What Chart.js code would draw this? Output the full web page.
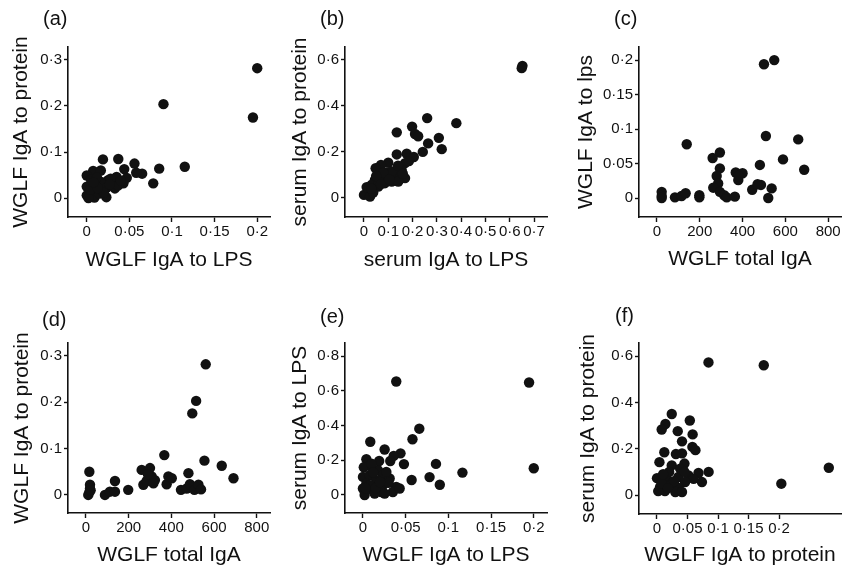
<!DOCTYPE html>
<html>
<head>
<meta charset="utf-8">
<title>IgA scatter panels</title>
<script src="https://cdn.jsdelivr.net/npm/chart.js@4.4.0/dist/chart.umd.min.js"></script>
<style>
  body { margin: 0; background: #fff; width: 850px; height: 576px; position: relative; overflow: hidden;
         font-family: "Liberation Sans", Arial, Helvetica, sans-serif; }
  .panel { position: absolute; }
  .tag { position: absolute; font-size: 20px; line-height: 20px; color: #111; }
</style>
</head>
<body>
<div class="panel" style="left:0px;top:0px;width:285px;height:288px"><canvas id="chartA"></canvas></div>
<div class="panel" style="left:285px;top:0px;width:285px;height:288px"><canvas id="chartB"></canvas></div>
<div class="panel" style="left:570px;top:0px;width:280px;height:288px"><canvas id="chartC"></canvas></div>
<div class="panel" style="left:0px;top:288px;width:285px;height:288px"><canvas id="chartD"></canvas></div>
<div class="panel" style="left:285px;top:288px;width:285px;height:288px"><canvas id="chartE"></canvas></div>
<div class="panel" style="left:570px;top:288px;width:280px;height:288px"><canvas id="chartF"></canvas></div>

<div class="tag" style="left:43px;top:8px">(a)</div>
<div class="tag" style="left:320px;top:8px">(b)</div>
<div class="tag" style="left:614px;top:8px">(c)</div>
<div class="tag" style="left:42px;top:309px">(d)</div>
<div class="tag" style="left:320px;top:306px">(e)</div>
<div class="tag" style="left:615px;top:305px">(f)</div>

<script>
// Tick values and labels
const lpsTicks = [0, 0.05, 0.1, 0.15, 0.2];
const lpsLabels = ["0", "0·05", "0·1", "0·15", "0·2"];
const serumLpsTicks = [0, 0.1, 0.2, 0.3, 0.4, 0.5, 0.6, 0.7];
const serumLpsLabels = ["0", "0·1", "0·2", "0·3", "0·4", "0·5", "0·6", "0·7"];
const totalTicks = [0, 200, 400, 600, 800];
const totalLabels = ["0", "200", "400", "600", "800"];
const proteinTicks = [0, 0.1, 0.2, 0.3];
const proteinLabels = ["0", "0·1", "0·2", "0·3"];
const serumProtTicks = [0, 0.2, 0.4, 0.6];
const serumProtLabels = ["0", "0·2", "0·4", "0·6"];
const serumLpsYTicks = [0, 0.2, 0.4, 0.6, 0.8];
const serumLpsYLabels = ["0", "0·2", "0·4", "0·6", "0·8"];

// (a) WGLF IgA to LPS vs WGLF IgA to protein
const aX = [0.200, 0.195, 0.090, 0.115, 0.085, 0.078, 0.065, 0.056, 0.058, 0.037, 0.019, 0.044,
            0.043, 0.047, 0.035, 0.0075, 0.0165, 0.000, 0.025, 0.017, 0.030, 0.010, 0.000, 0.023,
            0.0075, 0.000, 0.009, 0.023, 0.002, 0.015, 0.033, 0.037, 0.005, 0.012, 0.028,
            0.004, 0.020, 0.027, 0.040, 0.013, 0.008];
const aY = [0.282, 0.175, 0.204, 0.068, 0.064, 0.032, 0.053, 0.075, 0.055, 0.085, 0.084, 0.063,
            0.032, 0.044, 0.046, 0.059, 0.060, 0.049, 0.039, 0.035, 0.032, 0.028, 0.025, 0.022,
            0.014, 0.006, 0.001, 0.002, 0.000, 0.010, 0.021, 0.028, 0.040, 0.045, 0.042,
            0.018, 0.012, 0.030, 0.038, 0.022, 0.034];

// (b) serum IgA to LPS vs serum IgA to protein
const bX = [0.652, 0.649, 0.380, 0.260, 0.308, 0.320, 0.264, 0.242, 0.198, 0.210, 0.223, 0.135,
            0.135, 0.176, 0.205, 0.100, 0.070, 0.048, 0.169, 0.155, 0.128, 0.169, 0.100, 0.073,
            0.045, 0.032, 0.086, 0.059, 0.018, 0.000, 0.025, 0.038, 0.114, 0.141, 0.011, 0.060,
            0.090, 0.115, 0.185, 0.030, 0.140, 0.080, 0.050, 0.070, 0.105, 0.160];
const bY = [0.574, 0.564, 0.325, 0.347, 0.261, 0.212, 0.237, 0.200, 0.310, 0.278, 0.268, 0.285,
            0.189, 0.192, 0.178, 0.153, 0.143, 0.129, 0.151, 0.122, 0.100, 0.086, 0.093, 0.086,
            0.078, 0.057, 0.064, 0.049, 0.035, 0.013, 0.006, 0.023, 0.071, 0.071, 0.047, 0.070,
            0.110, 0.115, 0.160, 0.040, 0.140, 0.110, 0.095, 0.060, 0.080, 0.105];

// (c) WGLF total IgA vs WGLF IgA to lps
const cX = [548, 500, 509, 660, 139, 589, 688, 294, 260, 294, 279, 286, 263, 294, 314, 326, 364,
            368, 380, 400, 481, 486, 445, 536, 520, 22, 22, 22, 84, 115, 134, 198, 198, 470, 382];
const cY = [0.200, 0.194, 0.090, 0.085, 0.078, 0.056, 0.041, 0.066, 0.058, 0.043, 0.032, 0.021,
            0.015, 0.009, 0.004, 0.001, 0.002, 0.037, 0.026, 0.036, 0.048, 0.019, 0.012, 0.014,
            0.000, 0.009, 0.003, 0.000, 0.001, 0.003, 0.007, 0.004, 0.001, 0.020, 0.032];

// (d) WGLF total IgA vs WGLF IgA to protein
const dX = [561, 516, 498, 367, 555, 636, 691, 16, 19, 19, 16, 11, 89, 112, 136, 136, 198, 261,
            300, 269, 284, 308, 323, 316, 378, 386, 402, 445, 480, 472, 487, 508, 527, 539, 290, 22];
const dY = [0.282, 0.203, 0.176, 0.086, 0.074, 0.063, 0.036, 0.050, 0.022, 0.014, 0.006, 0.000,
            0.000, 0.007, 0.030, 0.007, 0.011, 0.054, 0.058, 0.022, 0.030, 0.040, 0.032, 0.025,
            0.023, 0.040, 0.036, 0.011, 0.047, 0.014, 0.023, 0.011, 0.022, 0.012, 0.045, 0.010];

// (e) WGLF IgA to LPS vs serum IgA to LPS
const eX = [0.039, 0.1945, 0.200, 0.1165, 0.0855, 0.090, 0.078, 0.057, 0.066, 0.058, 0.0086, 0.0254,
            0.044, 0.036, 0.032, 0.048, 0.019, 0.004, 0.001, 0.0117, 0.0176, 0.000, 0.0078, 0.0234,
            0.0313, 0.0157, 0.004, 0.0234, 0.039, 0.000, 0.0117, 0.0215, 0.035, 0.043, 0.002, 0.0137,
            0.0254, 0.0078, 0.0274, 0.010, 0.003, 0.030, 0.015, 0.020, 0.012];
const eY = [0.654, 0.648, 0.154, 0.129, 0.179, 0.059, 0.103, 0.086, 0.382, 0.321, 0.307, 0.262,
            0.240, 0.225, 0.196, 0.178, 0.196, 0.206, 0.160, 0.152, 0.1425, 0.104, 0.1135, 0.1135,
            0.095, 0.085, 0.066, 0.056, 0.046, 0.037, 0.027, 0.017, 0.017, 0.037, 0.000, 0.008,
            0.008, 0.056, 0.133, 0.180, 0.040, 0.070, 0.040, 0.075, 0.130];

// (f) WGLF IgA to protein vs serum IgA to protein
const fX = [0.0844, 0.175, 0.2816, 0.2038, 0.0846, 0.0737, 0.068, 0.0242, 0.0538, 0.0138, 0.0077,
            0.034, 0.0584, 0.041, 0.058, 0.063, 0.012, 0.041, 0.031, 0.004, 0.045, 0.0242, 0.000,
            0.016, 0.035, 0.0516, 0.060, 0.046, 0.0242, 0.005, 0.035, 0.013, 0.002, 0.030, 0.041,
            0.0077, 0.038, 0.020, 0.010, 0.028, 0.018, 0.045];
const fY = [0.573, 0.561, 0.118, 0.049, 0.100, 0.056, 0.095, 0.350, 0.322, 0.307, 0.283, 0.276,
            0.262, 0.232, 0.208, 0.194, 0.185, 0.180, 0.177, 0.142, 0.136, 0.128, 0.073, 0.070,
            0.078, 0.085, 0.070, 0.056, 0.049, 0.035, 0.032, 0.017, 0.017, 0.013, 0.013, 0.052,
            0.114, 0.100, 0.090, 0.060, 0.030, 0.100];

const ink = "#111";
const fontFamily = '"Liberation Sans", Arial, Helvetica, sans-serif';
Chart.defaults.font.family = fontFamily;
Chart.defaults.color = ink;

// Axis options shared by every panel
function axisOptions(min, max, ticks, labels, title, boxSize, titlePad, tickLen, tickPad) {
  return {
    type: "linear",
    min: min,
    max: max,
    afterBuildTicks: axis => { axis.ticks = ticks.map(v => ({ value: v })); },
    afterFit: axis => {
      if (axis.isHorizontal()) axis.height = boxSize;
      else axis.width = boxSize;
    },
    border: { display: true, color: ink, width: 1.6 },
    grid: { drawOnChartArea: false, drawTicks: true, tickLength: tickLen, tickColor: ink, tickWidth: 1.4 },
    ticks: {
      autoSkip: false, maxRotation: 0, minRotation: 0, padding: tickPad,
      color: ink, font: { size: 15 },
      callback: (v, i) => labels[i]
    },
    title: {
      display: true, text: title, color: ink,
      font: { size: 21 },
      padding: { top: titlePad, bottom: titlePad }
    }
  };
}

// Build one scatter panel
function makePanel(id, xs, ys, xAxis, yAxis, pad) {
  const ctx = document.getElementById(id).getContext("2d");
  return new Chart(ctx, {
    type: "scatter",
    data: {
      datasets: [{
        data: xs.map((x, i) => ({ x: x, y: ys[i] })),
        backgroundColor: ink,
        borderColor: ink,
        borderWidth: 0,
        pointRadius: 5.2,
        pointHoverRadius: 5.2
      }]
    },
    options: {
      responsive: true,
      maintainAspectRatio: false,
      animation: false,
      devicePixelRatio: 1,
      layout: { padding: { left: 0, bottom: 0, top: pad.top, right: pad.right } },
      plugins: { legend: { display: false }, tooltip: { enabled: false } },
      scales: { x: xAxis, y: yAxis }
    }
  });
}

makePanel("chartA", aX, aY,
  axisOptions(-0.022, 0.215, lpsTicks, lpsLabels, "WGLF IgA to LPS", 71, 15, 5, 1),
  axisOptions(-0.041, 0.328, proteinTicks, proteinLabels, "WGLF IgA to protein", 68, 9, 4, 2),
  { top: 47, right: 15 });

makePanel("chartB", bX, bY,
  axisOptions(-0.078, 0.753, serumLpsTicks, serumLpsLabels, "serum IgA to LPS", 71, 15.5, 5, 1),
  axisOptions(-0.083, 0.656, serumProtTicks, serumProtLabels, "serum IgA to protein", 60, 3, 4, 2),
  { top: 47, right: 23 });

makePanel("chartC", cX, cY,
  axisOptions(-84, 860, totalTicks, totalLabels, "WGLF total IgA", 71, 16, 5, 1),
  axisOptions(-0.0275, 0.219, lpsTicks, lpsLabels, "WGLF IgA to lps", 69, 4, 4, 2),
  { top: 47, right: 9 });

makePanel("chartD", dX, dY,
  axisOptions(-84, 862, totalTicks, totalLabels, "WGLF total IgA", 63, 8.4, 5, 1),
  axisOptions(-0.039, 0.328, proteinTicks, proteinLabels, "WGLF IgA to protein", 68, 9.4, 4, 2),
  { top: 55, right: 15 });

makePanel("chartE", eX, eY,
  axisOptions(-0.021, 0.2155, lpsTicks, lpsLabels, "WGLF IgA to LPS", 63, 8.4, 5, 1),
  axisOptions(-0.104, 0.876, serumLpsYTicks, serumLpsYLabels, "serum IgA to LPS", 60, 3, 4, 2),
  { top: 55, right: 23 });

makePanel("chartF", fX, fY,
  axisOptions(-0.0295, 0.3016, lpsTicks, lpsLabels, "WGLF IgA to protein", 62, 8.4, 5, 1),
  axisOptions(-0.082, 0.657, serumProtTicks, serumProtLabels, "serum IgA to protein", 69, 5.4, 4, 2),
  { top: 55, right: 9 });
</script>
</body>
</html>
